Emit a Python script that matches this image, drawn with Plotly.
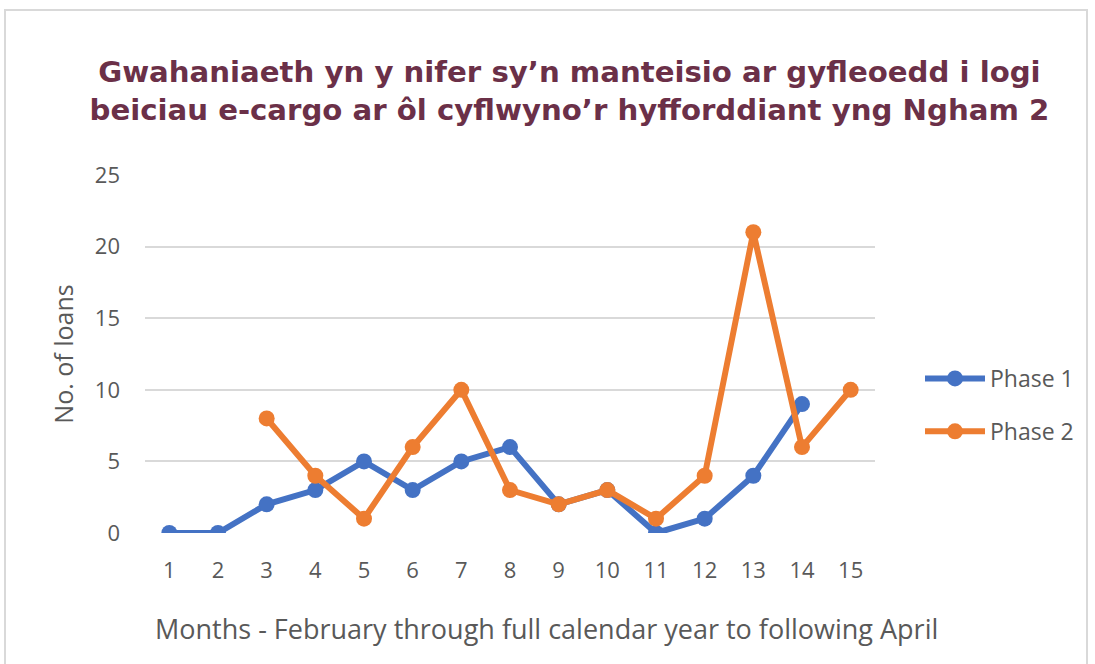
import plotly.graph_objects as go

months_p1 = [1, 2, 3, 4, 5, 6, 7, 8, 9, 10, 11, 12, 13, 14]
phase1 = [0, 0, 2, 3, 5, 3, 5, 6, 2, 3, 0, 1, 4, 9]
months_p2 = [3, 4, 5, 6, 7, 8, 9, 10, 11, 12, 13, 14, 15]
phase2 = [8, 4, 1, 6, 10, 3, 2, 3, 1, 4, 21, 6, 10]
x_ticks = list(range(1, 16))

title_text = ("Gwahaniaeth yn y nifer sy’n manteisio ar gyfleoedd i logi<br>"
              "beiciau e-cargo ar ôl cyflwyno’r hyfforddiant yng Ngham 2")
x_title = "Months - February through full calendar year to following April"
y_title = "No. of loans"

fig = go.Figure()
fig.add_trace(go.Scatter(x=months_p1, y=phase1, name="Phase 1", mode="lines+markers",
                         legendgroup="p1",
                         line=dict(color="#4472C4", width=6),
                         marker=dict(size=16, color="#4472C4")))
fig.add_trace(go.Scatter(x=months_p2, y=phase2, name="Phase 2", mode="lines+markers",
                         legendgroup="p2",
                         line=dict(color="#ED7D31", width=6),
                         marker=dict(size=16, color="#ED7D31")))

L, R, T, B = 145, 220, 175, 131
W, H = 1095, 664
pw, ph = W - L - R, H - T - B

fig.update_layout(
    width=W, height=H,
    margin=dict(l=L, r=R, t=T, b=B, autoexpand=False),
    paper_bgcolor="white", plot_bgcolor="white",
    font=dict(family="Open Sans, Noto Sans, sans-serif", color="#595959"),
    title=dict(text=title_text, x=0.52, xanchor="center", y=0.877, yanchor="middle",
               font=dict(family="DejaVu Sans, sans-serif", size=29.2, color="#6B3048", weight="bold")),
    xaxis=dict(range=[0.5, 15.5], tickmode="array", tickvals=x_ticks,
               showgrid=False, zeroline=False, showline=False, ticks="",
               automargin=False, ticklabelstandoff=22,
               tickfont=dict(size=22, color="#595959")),
    yaxis=dict(range=[0, 25], tickvals=[0, 5, 10, 15, 20, 25],
               showgrid=True, gridcolor="#D9D9D9", gridwidth=2,
               zeroline=False, showline=False, ticks="", ticklabelstandoff=24,
               automargin=False,
               tickfont=dict(size=22, color="#595959"),
               title=dict(text=y_title, font=dict(size=25, color="#595959"), standoff=14)),
    legend=dict(x=(920 - L) / pw, y=(533 - 405) / ph, xanchor="left", yanchor="middle",
                font=dict(size=23, color="#595959"), itemwidth=60, tracegroupgap=20,
                bgcolor="rgba(0,0,0,0)"),
    showlegend=True,
)

fig.add_annotation(text=x_title, xref="paper", yref="paper",
                   x=(546 - L) / pw, y=(533 - 628) / ph, xanchor="center", yanchor="middle",
                   showarrow=False, font=dict(size=27, color="#595959"))

fig.add_shape(type="rect", xref="paper", yref="paper",
              x0=(5 - L) / pw, x1=(1087 - L) / pw,
              y0=(533 - 680) / ph, y1=1 + (T - 10) / ph,
              line=dict(color="#D9D9D9", width=2), fillcolor="rgba(0,0,0,0)", layer="below")

fig.write_html("out.html", config={"displayModeBar": False},
               post_script="document.body.style.margin='0';")
